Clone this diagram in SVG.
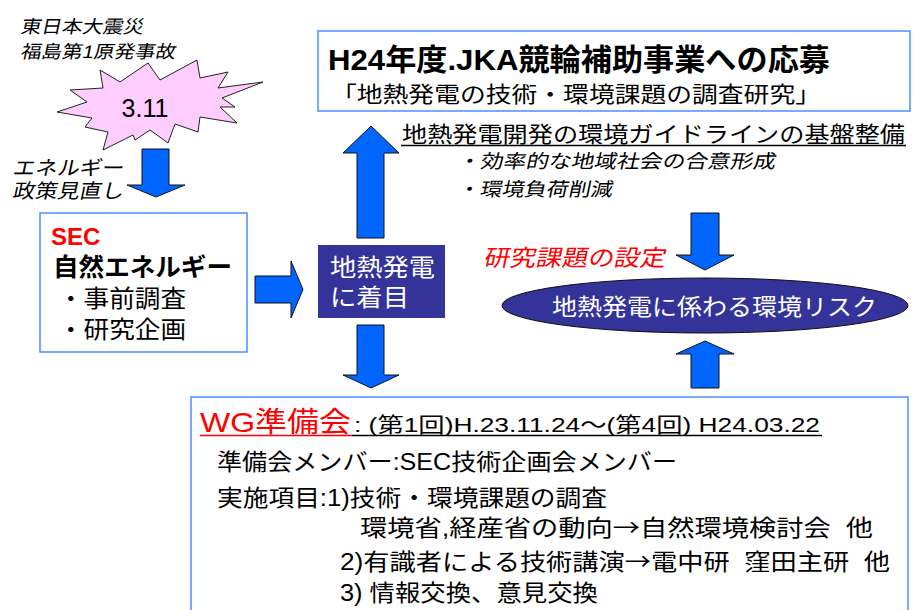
<svg xmlns="http://www.w3.org/2000/svg" width="913" height="610" viewBox="0 0 913 610">
<style>
text{font-family:"Liberation Sans","Noto Sans CJK JP",sans-serif;fill:#000}
.cjk{font-family:"Noto Sans CJK JP",sans-serif}
.b{font-weight:bold}
.w{fill:#fff}
.r{fill:#ff0000}
.arrow{fill:#0066ff;stroke:#111;stroke-width:1}
.box{fill:#fff;stroke:#4a90ff;stroke-width:1.5}
.navy{fill:#333399}
</style>
<rect width="913" height="610" fill="#fff"/>

<g id="quake-caption">
<g transform="translate(20,33) skewX(-12)"><text x="0" y="0" font-size="18" textLength="123" lengthAdjust="spacingAndGlyphs">東日本大震災</text></g>
<g transform="translate(20,58) skewX(-12)"><text x="0" y="0" font-size="18" textLength="155" lengthAdjust="spacingAndGlyphs">福島第1原発事故</text></g>
</g>

<g id="starburst">
<polygon points="100,70 120,82 148,63 160,80 197,60 200,78 228,72 218,88 263,82 222,98 235,107 220,107 237,123 200,117 198,132 175,124 168,143 150,130 135,140 133,135 103,150 108,132 85,127 92,118 57,112 87,102 70,90 103,88" fill="#ffccff" stroke="#222" stroke-width="1"/>
<text x="145" y="117" font-size="25" text-anchor="middle">3.11</text>
</g>

<g id="policy-caption">
<g transform="translate(12,175) skewX(-12)"><text x="0" y="0" font-size="20" textLength="111" lengthAdjust="spacingAndGlyphs">エネルギー</text></g>
<g transform="translate(12,198) skewX(-12)"><text x="0" y="0" font-size="20" textLength="111" lengthAdjust="spacingAndGlyphs">政策見直し</text></g>
</g>

<g id="sec-box">
<rect class="box" x="40" y="213" width="207" height="139"/>
<text class="b r" x="51" y="245" font-size="24">SEC</text>
<text class="b" x="53" y="276" font-size="25" textLength="179" lengthAdjust="spacingAndGlyphs">自然エネルギー</text>
<text x="58" y="307" font-size="24" textLength="128" lengthAdjust="spacingAndGlyphs">・事前調査</text>
<text x="58" y="338" font-size="24" textLength="128" lengthAdjust="spacingAndGlyphs">・研究企画</text>
</g>

<g id="geothermal-box">
<rect class="navy" x="318" y="245" width="127" height="73"/>
<text class="w" x="330" y="276" font-size="24" textLength="105" lengthAdjust="spacingAndGlyphs">地熱発電</text>
<text class="w" x="330" y="306" font-size="24" textLength="79" lengthAdjust="spacingAndGlyphs">に着目</text>
</g>

<g id="jka-box">
<rect class="box" x="318" y="31" width="592" height="80"/>
<text class="b" x="328" y="70" font-size="30" textLength="502" lengthAdjust="spacingAndGlyphs">H24年度.JKA競輪補助事業への応募</text>
<text x="331" y="102" font-size="22" textLength="490" lengthAdjust="spacingAndGlyphs">「地熱発電の技術・環境課題の調査研究」</text>
</g>

<g id="guideline">
<text x="402" y="142" font-size="22" textLength="503" lengthAdjust="spacingAndGlyphs">地熱発電開発の環境ガイドラインの基盤整備</text>
<line x1="401" y1="145.5" x2="906" y2="145.5" stroke="#000" stroke-width="1.5"/>
<g transform="translate(457,168) skewX(-12)"><text x="0" y="0" font-size="19" textLength="318" lengthAdjust="spacingAndGlyphs">・効率的な地域社会の合意形成</text></g>
<g transform="translate(457,196) skewX(-12)"><text x="0" y="0" font-size="19" textLength="155" lengthAdjust="spacingAndGlyphs">・環境負荷削減</text></g>
</g>

<g id="research-label">
<g transform="translate(483,266) skewX(-12)"><text class="r" x="0" y="0" font-size="23" textLength="182" lengthAdjust="spacingAndGlyphs">研究課題の設定</text></g>
</g>

<g id="risk-ellipse">
<ellipse class="navy" cx="705" cy="305.5" rx="203" ry="27.5" stroke="#111" stroke-width="1"/>
<text class="w" x="552" y="315" font-size="23" textLength="325" lengthAdjust="spacingAndGlyphs">地熱発電に係わる環境リスク</text>
</g>

<g id="wg-box">
<rect class="box" x="191" y="397" width="717" height="230"/>
<text class="r" x="200" y="432" font-size="28" textLength="151" lengthAdjust="spacingAndGlyphs">WG準備会</text>
<line x1="200" y1="435.5" x2="352" y2="435.5" stroke="#ff0000" stroke-width="1.5"/>
<text x="354" y="432" font-size="21" textLength="466" lengthAdjust="spacingAndGlyphs">: (第1回)H.23.11.24～(第4回) H24.03.22</text>
<line x1="352" y1="435.5" x2="822" y2="435.5" stroke="#000" stroke-width="1.5"/>
<text x="217" y="470" font-size="23" textLength="460" lengthAdjust="spacingAndGlyphs">準備会メンバー:SEC技術企画会メンバー</text>
<text x="217" y="506" font-size="23" textLength="390" lengthAdjust="spacingAndGlyphs">実施項目:1)技術・環境課題の調査</text>
<text x="360" y="536" font-size="23" textLength="513" lengthAdjust="spacingAndGlyphs">環境省,経産省の動向<tspan class="cjk">→</tspan>自然環境検討会&#160;&#160;他</text>
<text x="340" y="570" font-size="23" textLength="550" lengthAdjust="spacingAndGlyphs">2)有識者による技術講演<tspan class="cjk">→</tspan>電中研&#160;&#160;窪田主研&#160;&#160;他</text>
<text x="340" y="601" font-size="23" textLength="258" lengthAdjust="spacingAndGlyphs">3) 情報交換、意見交換</text>
</g>

<g id="connectors">
<polygon class="arrow" points="142,149 169,149 169,185 185,185 156,197 127,185 142,185"/>
<polygon class="arrow" points="255,276 291,276 291,261 303,289.5 291,318 291,303 255,303"/>
<polygon class="arrow" points="357,238 357,153 343,153 371,126 399,153 384,153 384,238"/>
<polygon class="arrow" points="357,325 384,325 384,375 399,375 371,388 343,375 357,375"/>
<polygon class="arrow" points="691,213 719,213 719,255 734,255 705,270 676,255 691,255"/>
<polygon class="arrow" points="691,388 691,354 676,354 705,341 734,354 719,354 719,388"/>
</g>
</svg>
